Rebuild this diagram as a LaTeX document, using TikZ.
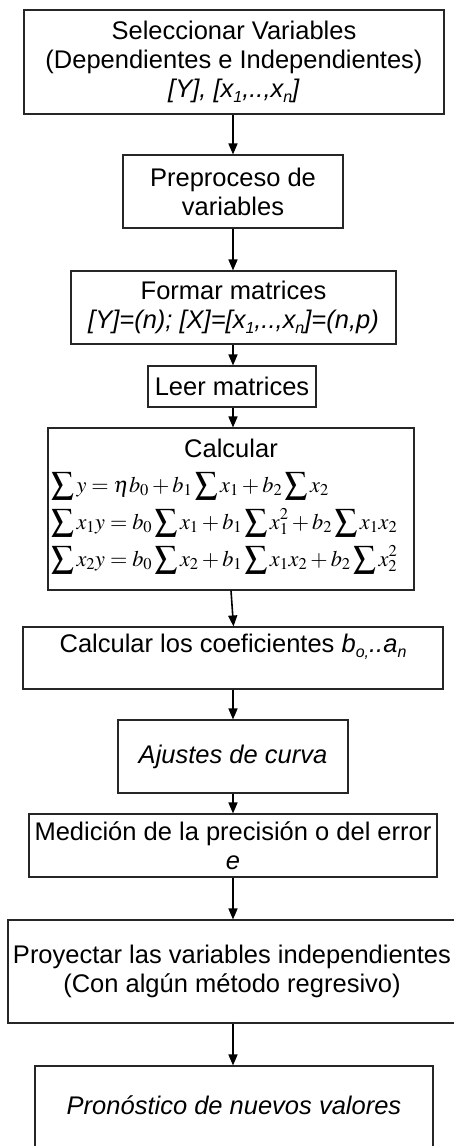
\documentclass[tikz,border=0pt]{standalone}
\usepackage{mathptmx}
\usepackage[no-math]{fontspec}
\setmainfont{Liberation Sans}
\usetikzlibrary{arrows.meta}
\newcommand\subx[1]{\raisebox{-5pt}{\fontsize{16}{16}\selectfont #1}}
\begin{document}
\begin{tikzpicture}[x=1pt,y=-1pt,
  box/.style={draw=black!85, line width=1.1pt, inner sep=0pt, align=center,
    font=\fontsize{25.5}{29}\selectfont},
  txt/.style={inner sep=0pt, font=\fontsize{25.5}{29}\selectfont},
  eqs/.style={inner sep=0pt, anchor=base west, font=\fontsize{22.3}{30}\selectfont},
  conn/.style={line width=1.6pt, -{Triangle[length=11pt,width=9pt]}}]
\clip (0,0) rectangle (454,1146);
\fill[white] (0,0) rectangle (454,1146);

\node[box, minimum width=420pt, minimum height=104pt] (b1) at (234,62)
  {Seleccionar Variables\\(Dependientes e Independientes)\\
   \textit{[Y], [x\subx{1},..,x\subx{n}]}};
\node[box, minimum width=220pt, minimum height=73pt] (b2) at (233,191.5)
  {Preproceso de\\variables};
\node[box, minimum width=325pt, minimum height=73pt] (b3) at (233.5,307.5)
  {Formar matrices\\
   \textit{[Y]=(n); [X]=[x\subx{1},..,x\subx{n}]=(n,p)}};
\node[box, minimum width=168pt, minimum height=41pt] (b4) at (232,386.5)
  {Leer matrices};
\node[box, minimum width=366pt, minimum height=162pt] (b5) at (231,509) {};
\node[txt, anchor=base] (calc) at (231,457) {Calcular};
\node[eqs] (eq1) at (51,492)
  {$\displaystyle\sum y = \eta b_0 + b_1\sum x_1 + b_2\sum x_2$};
\node[eqs] (eq2) at (51,529)
  {$\displaystyle\sum x_1 y = b_0\sum x_1 + b_1\sum x_1^2 + b_2\sum x_1 x_2$};
\node[eqs] (eq3) at (51,566)
  {$\displaystyle\sum x_2 y = b_0\sum x_2 + b_1\sum x_1 x_2 + b_2\sum x_2^2$};
\node[box, minimum width=420pt, minimum height=62pt] (b6) at (233,658)
  {Calcular los coeficientes \textit{b\subx{o,}..a\subx{n}}\\\mbox{}};
\node[box, minimum width=230pt, minimum height=73pt] (b7) at (233,756.5)
  {\textit{Ajustes de curva}};
\node[box, minimum width=408pt, minimum height=63pt] (b8) at (233,845.5)
  {Medición de la precisión o del error\\\textit{e}};
\node[box, minimum width=448pt, minimum height=103pt] (b9) at (232,971.5)
  {Proyectar las variables independientes\\(Con algún método regresivo)};
\node[box, minimum width=398pt, minimum height=107pt] (b10) at (234,1119.5)
  {\textit{Pronóstico de nuevos valores}\\\mbox{}};

\draw[conn] (b1.south -| 233,0) -- (b2.north -| 233,0);
\draw[conn] (b2.south -| 233,0) -- (b3.north -| 233,0);
\draw[conn] (b3.south -| 233,0) -- (b4.north -| 233,0);
\draw[conn] (b4.south -| 233,0) -- (b5.north -| 233,0);
\draw[conn] (b5.south -| 231,0) -- (b6.north -| 233.5,0);
\draw[conn] (b6.south -| 233,0) -- (b7.north -| 233,0);
\draw[conn] (b7.south -| 233,0) -- (b8.north -| 233,0);
\draw[conn] (b8.south -| 233,0) -- (b9.north -| 233,0);
\draw[conn] (b9.south -| 233,0) -- (b10.north -| 233,0);
\end{tikzpicture}
\end{document}
